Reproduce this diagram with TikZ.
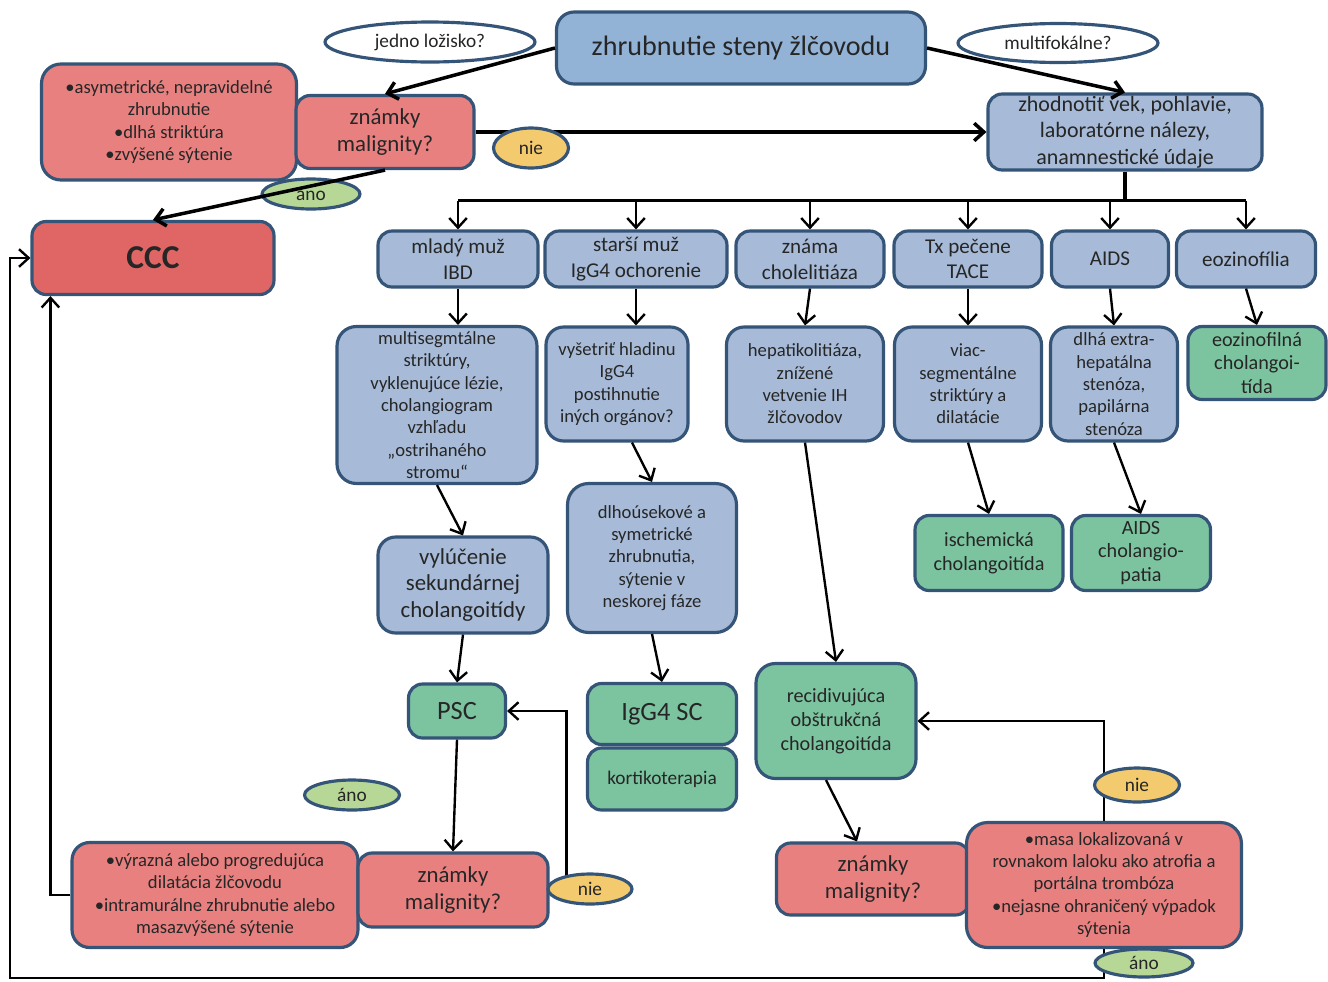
\documentclass[tikz,border=0pt]{standalone}
\usepackage{fontspec}
\setmainfont{Carlito}
\usetikzlibrary{shapes.geometric,arrows.meta}

\definecolor{ramcek}{RGB}{52,84,120}
\definecolor{modra}{RGB}{146,178,214}
\definecolor{svetlomodra}{RGB}{167,187,216}
\definecolor{cervena}{RGB}{232,128,128}
\definecolor{ccccolor}{RGB}{224,102,102}
\definecolor{zelena}{RGB}{124,196,160}
\definecolor{zlta}{RGB}{243,202,110}
\definecolor{svetlozelena}{RGB}{183,215,150}
\definecolor{pismo}{RGB}{38,38,38}

\begin{document}
\begin{tikzpicture}[x=0.02cm, y=-0.02cm,
    blok/.style={rectangle, rounded corners=8pt, draw=ramcek, line width=1.8pt, align=center, text=pismo, inner sep=1pt},
    modry/.style={blok, fill=svetlomodra},
    cerveny/.style={blok, fill=cervena},
    zeleny/.style={blok, fill=zelena},
    otazka/.style={ellipse, draw=ramcek, line width=1.8pt, fill=white, inner sep=0pt, text=pismo, font=\fontsize{11}{13}\selectfont},
    nie/.style={otazka, fill=zlta, minimum height=0.6cm},
    ano/.style={otazka, fill=svetlozelena, minimum height=0.6cm},
    sipka/.style={-{Straight Barb[length=5.5pt,width=10pt]}, line width=1.35pt},
    hrubasipka/.style={sipka, line width=2pt},
    f10/.style={font=\fontsize{10.6}{12.7}\selectfont},
    f11/.style={font=\fontsize{11.5}{13.6}\selectfont},
    f12/.style={font=\fontsize{12}{14.7}\selectfont},
    f125/.style={font=\fontsize{13}{15.3}\selectfont},
    f14/.style={font=\fontsize{15}{17}\selectfont}]

    \useasboundingbox (0,0) rectangle (1328,981);

    % horna cast
    \node[blok, fill=modra, rounded corners=10pt, minimum width=7.38cm, minimum height=1.44cm, font=\fontsize{16}{19}\selectfont] (zhrub) at (741,48) {zhrubnutie steny žlčovodu};
    \node[otazka, minimum width=4.2cm, minimum height=0.8cm] (jedno) at (430,42) {jedno ložisko?};
    \node[otazka, minimum width=4.0cm, minimum height=0.78cm] (multif) at (1058,43) {multifokálne?};

    \node[cerveny, f10, rounded corners=11pt, minimum width=5.1cm, minimum height=2.32cm] (priznaky1) at (169,122) {•asymetrické, nepravidelné\\zhrubnutie\\•dlhá striktúra\\•zvýšené sýtenie};
    \node[cerveny, f125, minimum width=3.56cm, minimum height=1.46cm] (znamky1) at (385,132) {známky\\malignity?};
    \node[modry, font=\fontsize{12.5}{15}\selectfont, minimum width=5.48cm, minimum height=1.52cm] (zhodnot) at (1125,132) {zhodnotiť vek, pohlavie,\\laboratórne nálezy,\\anamnestické údaje};
    \node[ano, minimum width=1.96cm] (ano1) at (311,194) {áno};

    \node[blok, fill=ccccolor, minimum width=4.84cm, minimum height=1.46cm, font=\fontsize{19}{22}\selectfont\bfseries] (ccc) at (153,258) {CCC};

    % skupiny pacientov
    \node[modry, f12, minimum width=3.2cm, minimum height=1.12cm] (ibd) at (458,259) {mladý muž\\IBD};
    \node[modry, f12, minimum width=3.64cm, minimum height=1.12cm] (starsi) at (636,259) {starší muž\\IgG4 ochorenie};
    \node[modry, f12, minimum width=2.96cm, minimum height=1.12cm] (znama) at (810,259) {známa\\cholelitiáza};
    \node[modry, f12, minimum width=2.96cm, minimum height=1.12cm] (tx) at (968,259) {Tx pečene\\TACE};
    \node[modry, f12, minimum width=2.34cm, minimum height=1.12cm] (aids) at (1110,259) {AIDS};
    \node[modry, f12, minimum width=2.78cm, minimum height=1.12cm] (eoz) at (1246,259) {eozinofília};

    \node[modry, f10, rounded corners=11pt, minimum width=4.0cm, minimum height=3.14cm] (strom) at (437,405) {multisegmtálne\\striktúry,\\vyklenujúce lézie,\\cholangiogram\\vzhľadu\\„ostrihaného\\stromu“};
    \node[modry, f10, rounded corners=10pt, minimum width=2.84cm, minimum height=2.28cm] (vys) at (617,384) {vyšetriť hladinu\\IgG4\\postihnutie\\iných orgánov?};
    \node[modry, f10, rounded corners=10pt, minimum width=3.14cm, minimum height=2.28cm] (hep) at (805,384) {hepatikolitiáza,\\znížené\\vetvenie IH\\žlčovodov};
    \node[modry, f10, rounded corners=10pt, minimum width=2.94cm, minimum height=2.28cm] (viac) at (968,384) {viac-\\segmentálne\\striktúry a\\dilatácie};
    \node[modry, f10, rounded corners=10pt, minimum width=2.54cm, minimum height=2.28cm] (dlha) at (1114,384) {dlhá extra-\\hepatálna\\stenóza,\\papilárna\\stenóza};
    \node[zeleny, f11, minimum width=2.76cm, minimum height=1.46cm] (eozc) at (1257,363) {eozinofilná\\cholangoi-\\tída};

    \node[modry, f125, rounded corners=10pt, minimum width=3.4cm, minimum height=1.92cm] (vyl) at (463,585) {vylúčenie\\sekundárnej\\cholangoitídy};
    \node[modry, f10, rounded corners=12pt, minimum width=3.38cm, minimum height=2.98cm] (dlho) at (652,558) {dlhoúsekové a\\symetrické\\zhrubnutia,\\sýtenie v\\neskorej fáze};
    \node[zeleny, f11, minimum width=2.96cm, minimum height=1.5cm] (isch) at (989,553) {ischemická\\cholangoitída};
    \node[zeleny, f11, minimum width=2.78cm, minimum height=1.5cm] (aidsc) at (1141,553) {AIDS\\cholangio-\\patia};

    \node[zeleny, f14, minimum width=1.94cm, minimum height=1.08cm] (psc) at (457,711) {PSC};
    \node[zeleny, f14, minimum width=2.98cm, minimum height=1.22cm] (igg) at (662,714) {IgG4 SC};
    \node[zeleny, font=\fontsize{11}{13}\selectfont, minimum width=2.98cm, minimum height=1.24cm] (kort) at (662,779) {kortikoterapia};
    \node[zeleny, f11, rounded corners=11pt, minimum width=3.2cm, minimum height=2.3cm] (recid) at (836,721) {recidivujúca\\obštrukčná\\cholangoitída};

    % dolna cast
    \node[ano, minimum width=1.9cm] (ano2) at (352,795) {áno};
    \node[cerveny, f10, rounded corners=10pt, minimum width=5.72cm, minimum height=2.1cm] (priznaky2) at (215,895) {•výrazná alebo progredujúca\\dilatácia žlčovodu\\•intramurálne zhrubnutie alebo\\masazvýšené sýtenie};
    \node[cerveny, f125, minimum width=3.8cm, minimum height=1.48cm] (znamky2) at (453,890) {známky\\malignity?};
    \node[cerveny, f125, minimum width=3.86cm, minimum height=1.44cm] (znamky3) at (873,879) {známky\\malignity?};
    \node[cerveny, f10, rounded corners=12pt, minimum width=5.5cm, minimum height=2.5cm] (priznaky3) at (1104,885) {•masa lokalizovaná v\\rovnakom laloku ako atrofia a\\portálna trombóza\\•nejasne ohraničený výpadok\\sýtenia};

    % spojnice
    \draw[hrubasipka] (zhrub.west) -- (znamky1.north);
    \draw[hrubasipka] (zhrub.east) -- (zhodnot.north);
    \draw[hrubasipka] (znamky1.east) -- (zhodnot.west);
    \draw[hrubasipka] (znamky1.south) -- (ccc.north);

    \coordinate (rozv) at ([yshift=-0.58cm]zhodnot.south);
    \draw[line width=2pt] (zhodnot.south) -- (rozv);
    \draw[line width=1.35pt] (ibd.north |- rozv) -- (eoz.north |- rozv);
    \foreach \k in {ibd,starsi,znama,tx,aids,eoz}
        \draw[sipka] (\k.north |- rozv) -- (\k.north);

    \draw[sipka] (ibd.south) -- (ibd.south |- strom.north);
    \draw[sipka] (starsi.south) -- (starsi.south |- vys.north);
    \draw[sipka] (znama.south) -- (hep.north);
    \draw[sipka] (tx.south) -- (viac.north);
    \draw[sipka] (aids.south) -- (dlha.north);
    \draw[sipka] (eoz.south) -- (eozc.north);

    \draw[sipka] (strom.south) -- (vyl.north);
    \draw[sipka] (vyl.south) -- (psc.north);
    \draw[sipka] ([xshift=0.3cm]vys.south) -- (dlho.north);
    \draw[sipka] (dlho.south) -- (igg.north);
    \draw[sipka] (hep.south) -- (recid.north);
    \draw[sipka] (viac.south) -- (isch.north);
    \draw[sipka] (dlha.south) -- (aidsc.north);
    \draw[sipka] ([xshift=-0.2cm]recid.south) -- ([xshift=-0.32cm]znamky3.north);
    \draw[sipka] (psc.south) -- (znamky2.north);

    \draw[sipka] (znamky2.east) -- ++(17,0) |- (psc.east);
    \draw[sipka] (priznaky2.west) -| ([xshift=0.4cm]ccc.south west);
    \draw[sipka] (priznaky3.north) |- (recid.east);
    \coordinate (dole) at (10,978);
    \draw[sipka] (priznaky3.south) |- (dole) |- (ccc.west);

    % odpovede nad ciarami
    \node[nie, minimum width=1.5cm, minimum height=0.8cm] (nie1) at (531,148) {nie};
    \node[nie, minimum width=1.68cm] (nie2) at (590,889) {nie};
    \node[nie, minimum width=1.7cm, minimum height=0.68cm] (nie3) at (1137,785) {nie};
    \node[ano, minimum width=1.96cm, minimum height=0.56cm] (ano3) at (1144,963) {áno};

\end{tikzpicture}
\end{document}
